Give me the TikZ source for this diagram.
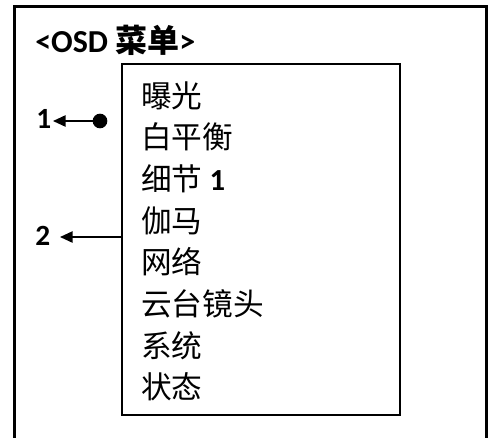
\documentclass[tikz,border=0pt]{standalone}
\usepackage{fontspec}
\setmainfont{Carlito}
\newfontfamily\cjk{Noto Sans CJK SC}
\usetikzlibrary{arrows.meta}
\tikzset{
  px/.style={x=0.75pt,y=-0.75pt},
  outerline/.style={line width=2.25pt},
  menubox/.style={draw,line width=1.5pt,minimum width=208.5pt,minimum height=263.25pt,inner sep=0pt},
  item/.style={anchor=base west,inner sep=0pt,font=\fontsize{23pt}{23pt}\cjk},
  numlabel/.style={anchor=base west,inner sep=0pt,font=\fontsize{22pt}{22pt}\bfseries},
  conn/.style={line width=1.2pt,-{Triangle[length=9.5pt,width=8.5pt]}},
  dotnode/.style={circle,fill,inner sep=0pt,minimum size=11pt}
}
\begin{document}
\begin{tikzpicture}[px]
\useasboundingbox (0,0) rectangle (488,437);
\draw[outerline] (14,445) -- (14,6.5) -- (486.5,6.5) -- (486.5,445);
\node[anchor=base west,inner sep=0pt,font=\fontsize{24pt}{24pt}\bfseries] (title) at (35,52) {<OSD {\cjk 菜单}>};
\node[menubox] (menu) at (261,239.5) {};
\node[item] (i1) at (141,107) {曝光};
\node[item] (i2) at (141,148.7) {白平衡};
\node[item] (i3) at (141,190.3) {细节{\normalfont\bfseries\ 1}};
\node[item] (i4) at (141,232) {伽马};
\node[item] (i5) at (141,273.7) {网络};
\node[item] (i6) at (141,315.3) {云台镜头};
\node[item] (i7) at (141,357) {系统};
\node[item] (i8) at (141,398.7) {状态};
\node[numlabel] (l1) at (36,128.5) {1};
\node[numlabel] (l2) at (35,245) {2};
\node[dotnode] (dot) at (100,121) {};
\coordinate (tip1) at (53,121);
\coordinate (tip2) at (60,237);
\draw[conn] (dot.center) -- (tip1);
\draw[conn] (menu.west |- tip2) -- (tip2);
\end{tikzpicture}
\end{document}
